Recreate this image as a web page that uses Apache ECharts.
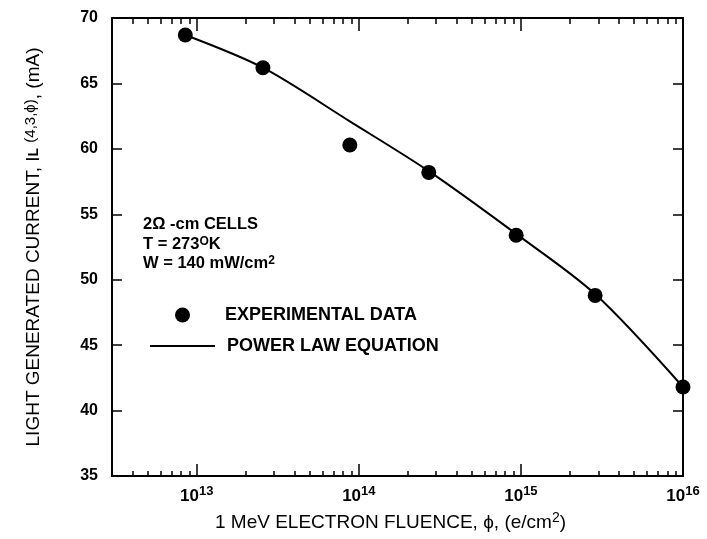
<!DOCTYPE html>
<html>
<head>
<meta charset="utf-8">
<script src="https://cdn.jsdelivr.net/npm/echarts@6/dist/echarts.min.js"></script>
<style>
html,body{margin:0;padding:0;background:#fff;}
#chart{width:707px;height:539px;}
</style>
</head>
<body>
<div id="chart"></div>
<script>
// Experimental data (fluence e/cm^2, light generated current mA)
const expFluence = [8.5e12, 2.56e13, 8.8e13, 2.7e14, 9.35e14, 2.87e15, 1.0e16];
const expCurrent = [68.7, 66.2, 60.3, 58.2, 53.4, 48.8, 41.8];
// Power law equation curve
const fitFluence = [8.5e12, 2.56e13, 8.8e13, 2.7e14, 9.35e14, 2.87e15, 1.0e16];
const fitCurrent = [68.7, 66.2, 62.1, 58.3, 53.5, 48.9, 41.8];
// Axis ticks
const xMajorTicks = [1e13, 1e14, 1e15, 1e16];
const xMinorTicks = [4e12, 5e12, 6e12, 7e12, 8e12, 9e12,
  2e13, 3e13, 4e13, 5e13, 6e13, 7e13, 8e13, 9e13,
  2e14, 3e14, 4e14, 5e14, 6e14, 7e14, 8e14, 9e14,
  2e15, 3e15, 4e15, 5e15, 6e15, 7e15, 8e15, 9e15];
const xMin = 3e12, xMax = 1e16;
const yMin = 35, yMax = 70, yStep = 5;

const FONT = 'Liberation Sans';
const chart = echarts.init(document.getElementById('chart'));

function pairs(xs, ys) { return xs.map((x, i) => [x, ys[i]]); }

const axisLineStyle = { color: '#000', width: 2 };
function logAxis(pos, ticks, len, opts) {
  return Object.assign({
    type: 'log', logBase: 10, position: pos, min: xMin, max: xMax,
    axisLine: { show: false, lineStyle: axisLineStyle },
    axisTick: { show: true, inside: true, length: len, customValues: ticks,
      lineStyle: { color: '#000', width: 1.5 } },
    axisLabel: { show: false },
    splitLine: { show: false }, minorTick: { show: false }
  }, opts || {});
}

const legendText = { fontFamily: FONT, fontSize: 18, fontWeight: 'bold', color: '#000' };

const option = {
  backgroundColor: '#fff',
  animation: false,
  grid: { left: 112, right: 24, top: 18, bottom: 63, containLabel: false },
  xAxis: [
    logAxis('bottom', xMajorTicks, 12, {
      axisLine: { show: true, lineStyle: axisLineStyle },
      axisLabel: {
        show: true, customValues: xMajorTicks, margin: 9,
        formatter: v => '{b|10}{s|' + Math.round(Math.log10(v)) + '}',
        rich: {
          b: { fontFamily: FONT, fontSize: 17, fontWeight: 'bold', color: '#000' },
          s: { fontFamily: FONT, fontSize: 13, fontWeight: 'bold', color: '#000', padding: [0, 0, 9, 0] }
        }
      },
      name: '1 MeV ELECTRON FLUENCE, \u03d5, (e/cm{s|2})',
      nameLocation: 'middle', nameGap: 35,
      nameTextStyle: {
        fontFamily: FONT, fontSize: 19, color: '#000', padding: [0, 14, 0, 0],
        rich: { s: { fontFamily: FONT, fontSize: 14, color: '#000', padding: [0, 0, 9, 0] } }
      }
    }),
    logAxis('bottom', xMinorTicks, 5),
    logAxis('top', xMajorTicks, 13, { axisLine: { show: true, lineStyle: axisLineStyle } }),
    logAxis('top', xMinorTicks, 6)
  ],
  yAxis: [
    {
      type: 'value', position: 'left', min: yMin, max: yMax, interval: yStep,
      axisLine: { show: true, lineStyle: axisLineStyle },
      axisTick: { show: true, inside: true, length: 10, lineStyle: { color: '#000', width: 1.5 } },
      axisLabel: { fontFamily: FONT, fontSize: 16, fontWeight: 'bold', color: '#000', margin: 14 },
      splitLine: { show: false },
      name: 'LIGHT GENERATED CURRENT, I{sub|L} {sm|(4,3,\u03d5)}, (mA)',
      nameLocation: 'middle', nameGap: 67, nameRotate: 90,
      nameTextStyle: {
        fontFamily: FONT, fontSize: 19, color: '#000',
        rich: {
          sub: { fontFamily: FONT, fontSize: 14, fontWeight: 'bold', color: '#000' },
          sm: { fontFamily: FONT, fontSize: 15, color: '#000', padding: [0, 0, 7, 0] }
        }
      }
    },
    {
      type: 'value', position: 'right', min: yMin, max: yMax, interval: yStep,
      axisLine: { show: true, lineStyle: axisLineStyle },
      axisTick: { show: true, inside: true, length: 10, lineStyle: { color: '#000', width: 1.5 } },
      axisLabel: { show: false },
      splitLine: { show: false }
    }
  ],
  legend: [
    {
      left: 175, top: 306, padding: 0, itemWidth: 15, itemHeight: 15,
      textStyle: Object.assign({ padding: [0, 0, 0, 30] }, legendText),
      data: [{ name: 'EXPERIMENTAL DATA', icon: 'circle' }]
    },
    {
      left: 150, top: 337, padding: 0, itemWidth: 65, itemHeight: 2,
      textStyle: Object.assign({ padding: [0, 0, 0, 7] }, legendText),
      data: [{ name: 'POWER LAW EQUATION', icon: 'rect' }]
    }
  ],
  graphic: [{
    type: 'text', left: 143, top: 215,
    style: {
      text: '2\u03a9 -cm CELLS\nT = 273{sup|O}K\nW = 140 mW/cm{sup|2}',
      fontFamily: FONT, fontSize: 16.5, fontWeight: 'bold', fill: '#000', lineHeight: 19.5,
      rich: { sup: { fontFamily: FONT, fontSize: 12, fontWeight: 'bold', fill: '#000', padding: [0, 0, 6, 0] } }
    }
  }],
  series: [
    {
      name: 'POWER LAW EQUATION', type: 'line', xAxisIndex: 0, yAxisIndex: 0,
      data: pairs(fitFluence, fitCurrent), smooth: 0.3, symbol: 'none',
      lineStyle: { color: '#000', width: 2 }, itemStyle: { color: '#000' }, z: 2
    },
    {
      name: 'EXPERIMENTAL DATA', type: 'scatter', xAxisIndex: 0, yAxisIndex: 0,
      data: pairs(expFluence, expCurrent), symbol: 'circle', symbolSize: 15,
      itemStyle: { color: '#000', opacity: 1 }, z: 3
    }
  ]
};
chart.setOption(option);
</script>
</body>
</html>
